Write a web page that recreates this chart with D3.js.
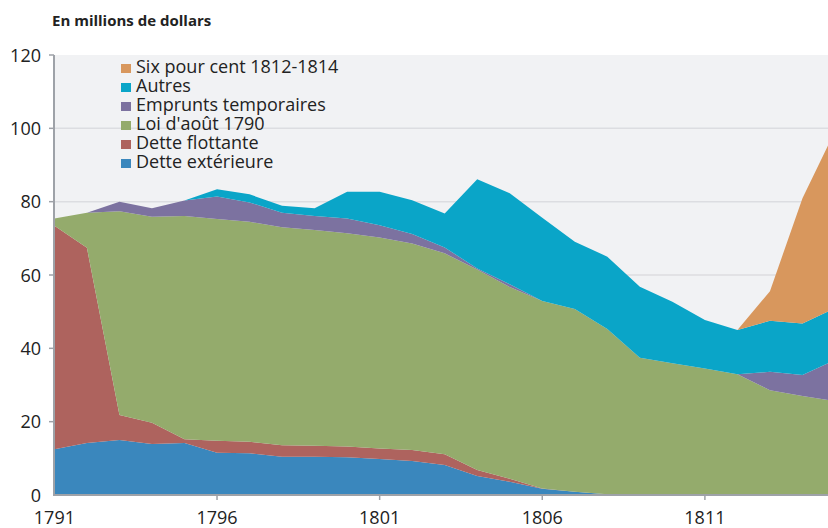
<!DOCTYPE html>
<html>
    <head>
        <script src="https://d3js.org/d3.v7.min.js"></script>
        <style>
            body{margin:0;background:#fff;}
            text{font-family:"Open Sans", sans-serif;fill:#222;}
        </style>
    </head>
    <body>
        <svg height="528" width="828" id="chart"></svg>
        <script>
            // years 1791..1815, values in millions of dollars
            const years=d3.range(1791, 1816);
            const detteExterieure=[12.5,14.2,15.0,13.9,14.2,11.5,11.4,10.4,10.4,10.3,9.8,9.3,8.2,5.2,3.6,1.7,0.9,0.2,0,0,0,0,0,0,0];
            const detteFlottante=[60.9,53.2,6.8,5.8,1.0,3.3,3.1,3.2,3.0,2.9,2.9,3.0,2.9,1.6,0.8,0.1,0,0,0,0,0,0,0,0,0];
            const loiAout1790=[2.0,9.6,55.6,56.2,60.9,60.5,60.0,59.4,58.9,58.2,57.5,56.3,54.8,54.7,52.3,51.1,49.8,45.1,37.4,35.9,34.5,32.9,28.6,27.0,25.6];
            const empruntsTemporaires=[0,0,2.6,2.3,4.2,6.1,5.3,4.0,3.8,4.0,3.4,2.6,1.6,0.3,0.8,0,0,0,0,0,0,0,5.0,5.7,11.2];
            const autres=[0,0,0,0,0,2.0,2.2,1.9,2.1,7.3,9.1,9.2,9.3,24.3,24.8,22.7,18.4,19.7,19.4,16.8,13.2,12.1,13.9,14.1,14.1];
            const sixPourCent=[0,0,0,0,0,0,0,0,0,0,0,0,0,0,0,0,0,0,0,0,0,0,8.1,34.1,48.4];

            const seriesNames=["Dette extérieure","Dette flottante","Loi d'août 1790","Emprunts temporaires","Autres","Six pour cent 1812-1814"];
            const seriesValues=[detteExterieure,detteFlottante,loiAout1790,empruntsTemporaires,autres,sixPourCent];
            const colors=["#3a87bd","#ae635e","#94ab6c","#7c72a0","#0aa5c8","#d8975d"];
            const yTicks=[0,20,40,60,80,100,120];
            const xTicks=[1791,1796,1801,1806,1811];

            let svg=d3.select("#chart");
            let plotLeft=54, plotRight=828, plotTop=55, plotBottom=495;

            let x=d3.scaleLinear().domain([1791, 1815]).range([54.4, 835]);
            let y=d3.scaleLinear().domain([0, 120]).range([plotBottom, plotTop]);

            // table for the stack
            let table=years.map((yr, i)=>{
                let row={year: yr};
                seriesNames.forEach((n, k)=>{ row[n]=seriesValues[k][i]; });
                return row;
            });
            let stacked=d3.stack().keys(seriesNames)(table);

            svg.append("rect")
                .attr("x", plotLeft).attr("y", plotTop)
                .attr("width", plotRight-plotLeft).attr("height", plotBottom-plotTop)
                .style("fill", "#f1f2f4");

            svg.append("g").selectAll("line")
                .data(yTicks.filter(d=>d>0 && d<120))
                .join("line")
                .attr("x1", plotLeft).attr("x2", plotRight)
                .attr("y1", d=>y(d)).attr("y2", d=>y(d))
                .style("stroke", "#dcdde1")
                .style("stroke-width", 1.5);

            let area=d3.area()
                .x(d=>x(d.data.year))
                .y0(d=>y(d[0]))
                .y1(d=>y(d[1]));

            svg.append("g").selectAll("path")
                .data(stacked)
                .join("path")
                .attr("d", area)
                .style("fill", (d, i)=>colors[i]);

            // axes
            svg.append("line")
                .attr("x1", plotLeft).attr("x2", plotLeft)
                .attr("y1", plotTop).attr("y2", plotBottom+1)
                .style("stroke", "#9ea2a8").style("stroke-width", 2);
            svg.append("line")
                .attr("x1", plotLeft-1).attr("x2", plotRight)
                .attr("y1", plotBottom).attr("y2", plotBottom)
                .style("stroke", "#9ea2a8").style("stroke-width", 2);

            let yAxis=svg.append("g");
            yAxis.selectAll("line").data(yTicks.filter(d=>d>0)).join("line")
                .attr("x1", plotLeft-5).attr("x2", plotLeft)
                .attr("y1", d=>y(d)).attr("y2", d=>y(d))
                .style("stroke", "#9ea2a8").style("stroke-width", 1.5);
            yAxis.selectAll("text").data(yTicks).join("text")
                .attr("x", 41).attr("y", d=>y(d)+6.5)
                .attr("text-anchor", "end")
                .style("font-size", "18px")
                .text(d=>d);

            let xAxis=svg.append("g");
            xAxis.selectAll("line").data(xTicks.filter(d=>d>1791)).join("line")
                .attr("x1", d=>x(d)).attr("x2", d=>x(d))
                .attr("y1", plotBottom).attr("y2", plotBottom+5)
                .style("stroke", "#9ea2a8").style("stroke-width", 1.5);
            xAxis.selectAll("text").data(xTicks).join("text")
                .attr("x", d=>x(d)).attr("y", 524)
                .attr("text-anchor", "middle")
                .style("font-size", "18px")
                .text(d=>d);

            svg.append("text")
                .attr("x", 52).attr("y", 26)
                .style("font-size", "15px")
                .style("font-weight", "bold")
                .text("En millions de dollars");

            // legend, top entry first
            let legend=svg.append("g");
            let order=d3.range(seriesNames.length).reverse();
            order.forEach((k, j)=>{
                let yy=73+j*19;
                legend.append("rect")
                    .attr("x", 121).attr("y", yy-9)
                    .attr("width", 10).attr("height", 9)
                    .style("fill", colors[k]);
                legend.append("text")
                    .attr("x", 136).attr("y", yy)
                    .style("font-size", "18px")
                    .text(seriesNames[k]);
            });
        </script>
    </body>
</html>
